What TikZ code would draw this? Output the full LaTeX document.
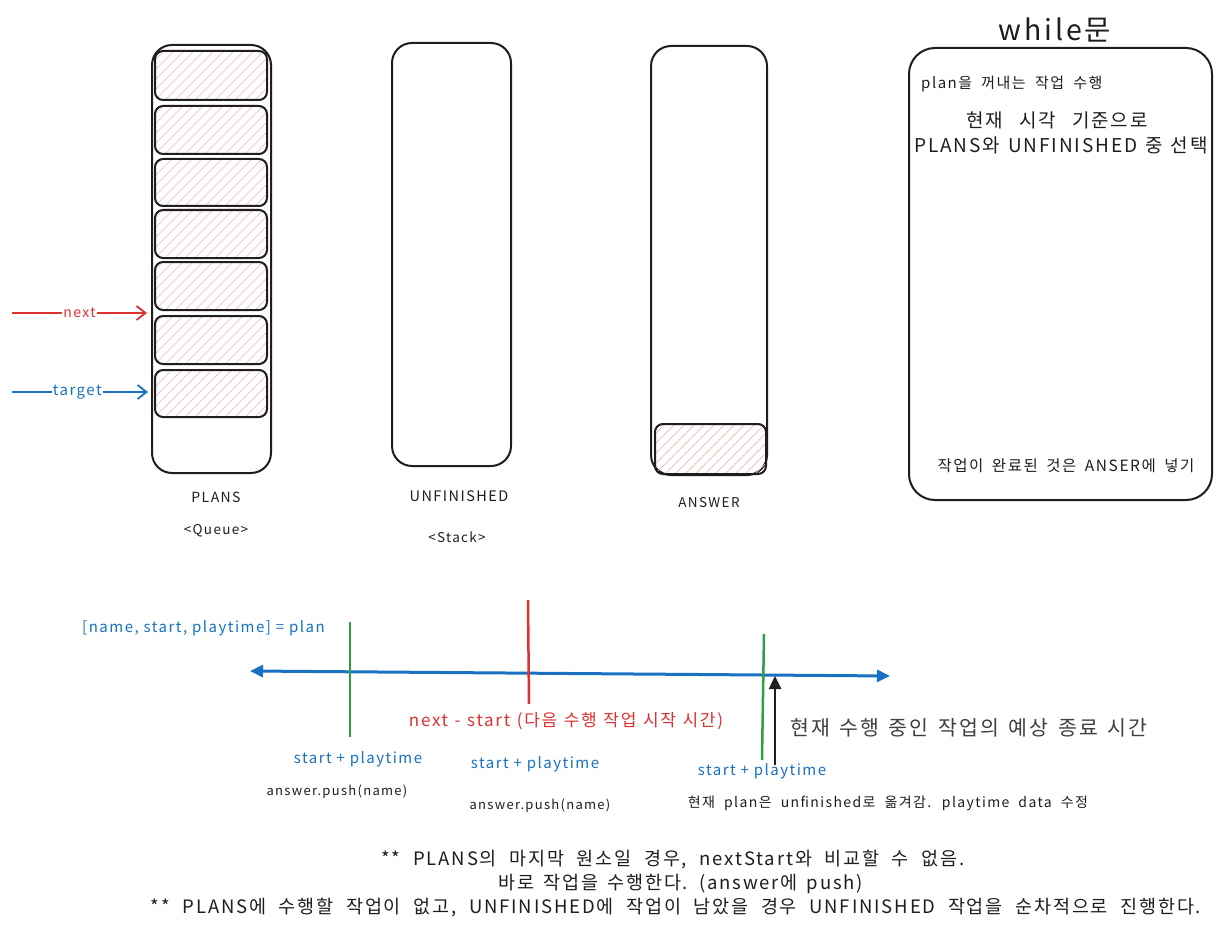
\documentclass[tikz,border=0pt]{standalone}
\usepackage{fontspec}
\setmainfont{Noto Sans CJK KR}[LetterSpace=10]
\usetikzlibrary{arrows.meta}
\definecolor{hred}{HTML}{E03131}
\definecolor{hblue}{HTML}{1971C2}
\definecolor{hgreen}{HTML}{2F9E44}
\definecolor{hatch}{HTML}{FFB3B3}
\definecolor{ink}{HTML}{1E1E1E}
\newcommand{\ws}[1]{\spaceskip=#1\fontdimen2\font\relax}
\begin{document}
\begin{tikzpicture}[x=1pt,y=-1pt,
  container/.style={draw=ink,line width=2pt,rounded corners=20pt,inner sep=0pt},
  cell/.style={draw=ink,line width=2pt,rounded corners=8pt,inner sep=0pt,
    path picture={\foreach \i in {-70,-60,...,120}
      {\draw[hatch,line width=0.7pt] ([xshift=\i pt]path picture bounding box.south west) -- ++(70,-70);}}},
  lbl/.style={text=ink,font=\fontsize{13.5}{15}\selectfont,inner sep=0pt},
  ptr/.style={line width=1.8pt,-{Straight Barb[length=9pt,width=14pt,line width=1.8pt]}},
  tick/.style={line width=2.5pt},
  bnote/.style={text=hblue,font=\fontsize{15}{17}\selectfont,inner sep=0pt},
  knote/.style={text=ink,font=\fontsize{13}{15}\selectfont,inner sep=0pt},
  foot/.style={text=ink,font=\fontsize{18.5}{21}\selectfont\ws{2.1},inner sep=0pt}]
\useasboundingbox (0,0) rectangle (1227,931);
\fill[white] (0,0) rectangle (1227,931);

% PLANS
\node[container,minimum width=119pt,minimum height=428pt] (plans) at (211.5,259) {};
\node[cell,minimum width=112pt,minimum height=49pt] (c1) at (211,75.5) {};
\node[cell,minimum width=112pt,minimum height=48pt] (c2) at (211,130) {};
\node[cell,minimum width=112pt,minimum height=47pt] (c3) at (211,182.5) {};
\node[cell,minimum width=112pt,minimum height=48pt] (c4) at (211,234) {};
\node[cell,minimum width=112pt,minimum height=48pt] (c5) at (211,286) {};
\node[cell,minimum width=112pt,minimum height=48pt] (c6) at (211,340) {};
\node[cell,minimum width=112pt,minimum height=47pt] (c7) at (211,393.5) {};
\node[lbl,font=\fontsize{14}{16}\selectfont] (plansl) at (216,497) {PLANS};
\node[lbl] (queuel) at (216,531) {<Queue>};

% pointers
\coordinate (nexts) at (12,313);
\coordinate (nexte) at (147,313);
\draw[ptr,hred] (nexts) -- node[fill=white,inner sep=1pt,text=hred,font=\fontsize{14}{16}\selectfont] (nextl) {next} (nexte);
\coordinate (tgts) at (12,392);
\coordinate (tgte) at (148,392);
\draw[ptr,hblue] (tgts) -- node[fill=white,inner sep=1pt,text=hblue,font=\fontsize{15}{17}\selectfont,pos=0.48] (tgtl) {target} (tgte);

% UNFINISHED
\node[container,minimum width=119pt,minimum height=423pt] (unf) at (451.5,254.5) {};
\node[lbl,font=\fontsize{14.5}{16}\selectfont] (unfl) at (459,496) {UNFINISHED};
\node[lbl] (stackl) at (457,537) {<Stack>};

% ANSWER
\node[container,minimum width=116pt,minimum height=429pt] (ans) at (709,260.5) {};
\node[cell,minimum width=111pt,minimum height=50pt] (a1) at (710.5,449) {};
\node[lbl] (ansl) at (709,503) {ANSWER};

% while box
\node[container,rounded corners=26pt,minimum width=303pt,minimum height=452pt] (wbox) at (1060.5,274) {};
\node[text=ink,font=\fontsize{28.5}{32}\selectfont,inner sep=0pt] (wtitle) at (1055,30) {while문};
\node[knote,anchor=west,font=\fontsize{15}{17}\selectfont\ws{1.9}] (w1) at (921,84) {plan을 꺼내는 작업 수행};
\node[text=ink,font=\fontsize{19}{22}\selectfont\ws{2.6},inner sep=0pt] (w2) at (1057,120) {현재 시각 기준으로};
\node[text=ink,font=\fontsize{19}{22}\selectfont\ws{1.3},inner sep=0pt] (w3) at (1061,145) {PLANS와 UNFINISHED 중 선택};
\node[text=ink,font=\fontsize{15.5}{18}\selectfont\ws{1.7},inner sep=0pt] (w4) at (1066,466) {작업이 완료된 것은 ANSER에 넣기};

% timeline
\coordinate (tl) at (250,671);
\coordinate (tr) at (890,676);
\draw[hblue,line width=3pt,{Triangle[length=13pt,width=12pt]}-{Triangle[length=13pt,width=12pt]}] (tl) -- (tr);
\coordinate (g1t) at (350,622); \coordinate (g1b) at (350,737);
\draw[tick,hgreen] (g1t) -- (g1b);
\coordinate (r1t) at (528,600); \coordinate (r1b) at (529,704);
\draw[tick,hred] (r1t) -- (r1b);
\coordinate (g2t) at (764,634); \coordinate (g2b) at (762,760);
\draw[tick,hgreen] (g2t) -- (g2b);
\coordinate (kb) at (775,765); \coordinate (kt) at (775,676);
\draw[ink,line width=2.5pt,-{Triangle[length=13pt,width=12pt]}] (kb) -- (kt);

\node[bnote,anchor=west] (planl) at (82,628) {[name, start, playtime] = plan};
\node[text=hred,font=\fontsize{17}{20}\selectfont\ws{1.2},inner sep=0pt] (nsl) at (566,721) {next - start (다음 수행 작업 시작 시간)};
\node[text=ink!85,font=\fontsize{20.5}{24}\selectfont\ws{1.45},inner sep=0pt,anchor=west] (cur) at (790,728) {현재 수행 중인 작업의 예상 종료 시간};
\node[bnote] (sp1) at (358,759) {start + playtime};
\node[bnote] (sp2) at (535,764) {start + playtime};
\node[bnote] (sp3) at (762,771) {start + playtime};
\node[knote] (ap1) at (337,792) {answer.push(name)};
\node[knote] (ap2) at (540,806) {answer.push(name)};
\node[knote,font=\fontsize{14}{16}\selectfont\ws{2}] (mv) at (888,803) {현재 plan은 unfinished로 옮겨감. playtime data 수정};

% footnotes
\node[foot] (f1) at (673,860) {** PLANS의 마지막 원소일 경우, nextStart와 비교할 수 없음.};
\node[foot,font=\fontsize{18.5}{21}\selectfont\ws{1.5}] (f2) at (681,884) {바로 작업을 수행한다. (answer에 push)};
\node[foot] (f3) at (676,908) {** PLANS에 수행할 작업이 없고, UNFINISHED에 작업이 남았을 경우 UNFINISHED 작업을 순차적으로 진행한다.};
\end{tikzpicture}
\end{document}
